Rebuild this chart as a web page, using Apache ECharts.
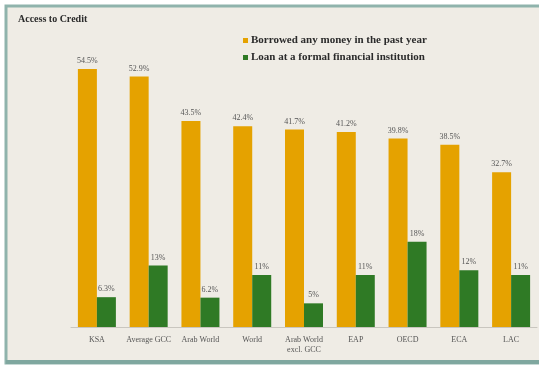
<!DOCTYPE html>
<html>
<head>
<meta charset="utf-8">
<script src="https://cdn.jsdelivr.net/npm/echarts@6/dist/echarts.min.js"></script>
<style>
  html, body { margin: 0; padding: 0; background: #ffffff; }
  #chart { width: 539px; height: 375px; }
</style>
</head>
<body>
<div id="chart"></div>
<script>
// Regions compared
const categories = ['KSA', 'Average GCC', 'Arab World', 'World', 'Arab World\nexcl. GCC', 'EAP', 'OECD', 'ECA', 'LAC'];
// Share of adults (%)
const borrowedAny = [54.5, 52.9, 43.5, 42.4, 41.7, 41.2, 39.8, 38.5, 32.7];
const formalLoan = [6.3, 13, 6.2, 11, 5, 11, 18, 12, 11];
// Labels printed above the green bars
const formalLoanLabels = ['6.3%', '13%', '6.2%', '11%', '5%', '11%', '18%', '12%', '11%'];

const serif = '"Liberation Serif", "DejaVu Serif", serif';
const chart = echarts.init(document.getElementById('chart'), null, { renderer: 'canvas' });

chart.setOption({
  backgroundColor: '#ffffff',
  animation: false,
  graphic: [
    {
      type: 'rect', z: -10, silent: true,
      shape: { x: 6, y: 6, width: 540, height: 357 },
      style: { fill: '#efece5', stroke: '#8fb3ac', lineWidth: 3 }
    },
    {
      type: 'rect', z: -9, silent: true,
      shape: { x: 6, y: 360, width: 540, height: 4 },
      style: { fill: '#7fa79f' }
    }
  ],
  title: {
    text: 'Access to Credit',
    left: 13, top: 9,
    textStyle: { fontFamily: serif, fontSize: 10, fontWeight: 'bold', color: '#2b2b2b' }
  },
  legend: {
    orient: 'vertical',
    left: 238, top: 30,
    itemWidth: 5, itemHeight: 5, itemGap: 6,
    icon: 'rect',
    textStyle: { fontFamily: serif, fontSize: 11, fontWeight: 'bold', color: '#2b2b2b', padding: [0, 0, 0, -2] },
    data: ['Borrowed any money in the past year', 'Loan at a formal financial institution']
  },
  grid: { left: 71, right: 2, top: 43, bottom: 48 },
  xAxis: {
    type: 'category',
    data: categories,
    axisTick: { show: false },
    axisLine: { lineStyle: { color: '#c9c6bf', width: 1 } },
    axisLabel: {
      interval: 0, hideOverlap: false,
      fontFamily: serif, fontSize: 8, color: '#555', margin: 8, lineHeight: 10
    }
  },
  yAxis: {
    type: 'value', min: 0, max: 60,
    show: false,
    splitLine: { show: false }
  },
  series: [
    {
      name: 'Borrowed any money in the past year',
      type: 'bar',
      data: borrowedAny,
      barWidth: 19,
      barGap: '0%',
      itemStyle: { color: '#e5a200' },
      label: {
        show: true, position: 'top', distance: 4,
        fontFamily: serif, fontSize: 8, color: '#555',
        formatter: p => p.value.toFixed(1) + '%'
      }
    },
    {
      name: 'Loan at a formal financial institution',
      type: 'bar',
      data: formalLoan,
      barWidth: 19,
      itemStyle: { color: '#2f7a25' },
      label: {
        show: true, position: 'top', distance: 4,
        fontFamily: serif, fontSize: 8, color: '#555',
        formatter: p => formalLoanLabels[p.dataIndex]
      }
    }
  ]
});
</script>
</body>
</html>
